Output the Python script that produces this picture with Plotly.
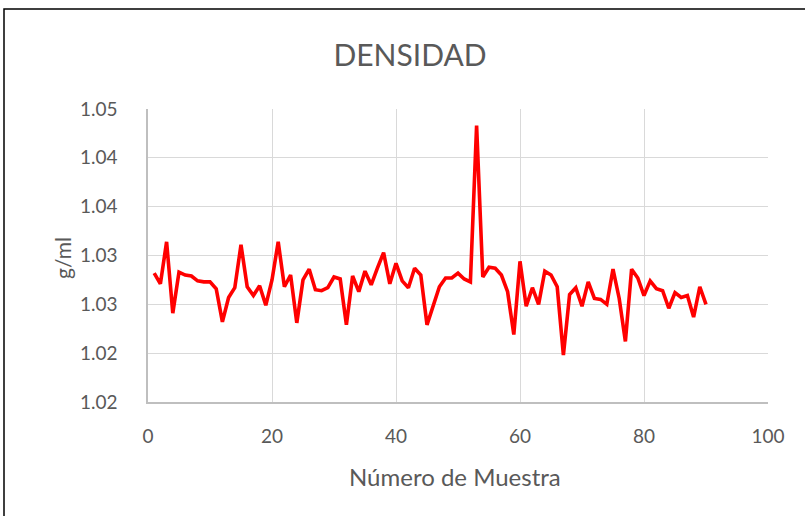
import plotly.graph_objects as go

muestra = list(range(1, 91))
densidad = [
    1.0282, 1.0271, 1.0314, 1.0241, 1.0283, 1.0280, 1.0279, 1.0274, 1.0273, 1.0273,
    1.0266, 1.0232, 1.0257, 1.0267, 1.0311, 1.0268, 1.0259, 1.0269, 1.0249, 1.0275,
    1.0314, 1.0268, 1.0280, 1.0231, 1.0275, 1.0286, 1.0265, 1.0264, 1.0267, 1.0278,
    1.0276, 1.0229, 1.0279, 1.0263, 1.0284, 1.0270, 1.0287, 1.0303, 1.0271, 1.0292,
    1.0274, 1.0267, 1.0287, 1.0280, 1.0229, 1.0250, 1.0268, 1.0277, 1.0277, 1.0282,
    1.0276, 1.0273, 1.0433, 1.0278, 1.0288, 1.0287, 1.0280, 1.0263, 1.0219, 1.0294,
    1.0248, 1.0267, 1.0250, 1.0284, 1.0280, 1.0268, 1.0198, 1.0260, 1.0267, 1.0248,
    1.0273, 1.0256, 1.0255, 1.0250, 1.0286, 1.0256, 1.0212, 1.0286, 1.0277, 1.0259,
    1.0274, 1.0266, 1.0264, 1.0246, 1.0262, 1.0257, 1.0259, 1.0237, 1.0268, 1.0250,
]

y_ticks = [1.015, 1.020, 1.025, 1.030, 1.035, 1.040, 1.045]
y_tick_text = ["1.02", "1.02", "1.03", "1.03", "1.04", "1.04", "1.05"]
x_ticks = [0, 20, 40, 60, 80, 100]

FONT = "Lato"
GREY = "#595959"

fig = go.Figure()
fig.add_trace(go.Scatter(
    x=muestra, y=densidad, mode="lines",
    line=dict(color="#ff0000", width=3.6),
    showlegend=False,
))

fig.update_layout(
    width=805, height=516,
    margin=dict(l=148, r=37, t=109, b=114),
    paper_bgcolor="white", plot_bgcolor="white",
    font=dict(family=FONT, color=GREY),
    title=dict(text="DENSIDAD", x=410 / 805, xanchor="center",
               y=1 - 55 / 516, yanchor="middle",
               font=dict(family=FONT, size=30, color=GREY)),
    xaxis=dict(
        range=[0, 100], tickvals=x_ticks,
        showgrid=True, gridcolor="#d9d9d9", gridwidth=1.3,
        showline=True, linecolor="#bfbfbf", linewidth=1.5,
        zeroline=False,
        ticks="outside", ticklen=16, tickcolor="rgba(0,0,0,0)",
        tickfont=dict(family=FONT, size=19, color=GREY),
    ),
    yaxis=dict(
        range=[1.015, 1.045], tickvals=y_ticks, ticktext=y_tick_text,
        showgrid=True, gridcolor="#d9d9d9", gridwidth=1.3,
        showline=True, linecolor="#bfbfbf", linewidth=1.5,
        zeroline=False,
        ticks="outside", ticklen=25, tickcolor="rgba(0,0,0,0)",
        tickfont=dict(family=FONT, size=19, color=GREY),
    ),
    annotations=[
        dict(text="Número de Muestra", xref="paper", yref="paper",
             x=(455 - 148) / 620, y=(402 - 476) / 293,
             xanchor="center", yanchor="middle", showarrow=False,
             font=dict(family=FONT, size=24, color=GREY)),
        dict(text="g/ml", xref="paper", yref="paper",
             x=(62 - 148) / 620, y=(402 - 258) / 293, textangle=-90,
             xanchor="center", yanchor="middle", showarrow=False,
             font=dict(family=FONT, size=21, color=GREY)),
    ],
    shapes=[
        dict(type="rect", xref="paper", yref="paper",
             x0=(4 - 148) / 620, x1=(812 - 148) / 620,
             y0=(402 - 525) / 293, y1=(402 - 9) / 293,
             line=dict(color="#000000", width=1.5), fillcolor="rgba(0,0,0,0)",
             layer="below"),
    ],
)

fig.write_html("out.html", config={"displayModeBar": False},
               post_script="document.body.style.margin='0';")
